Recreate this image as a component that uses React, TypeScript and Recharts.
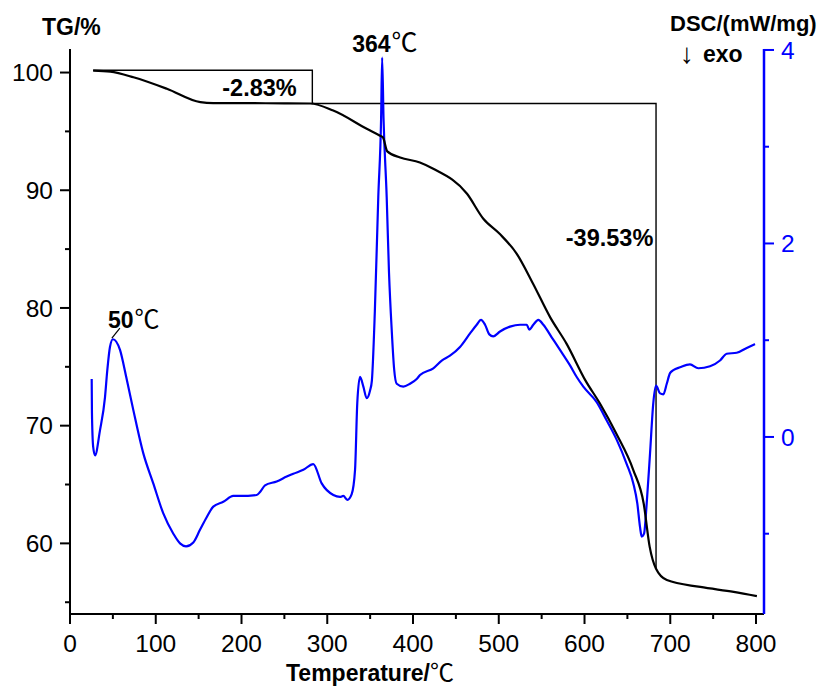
import React from 'react';
import { ComposedChart, Line, XAxis, YAxis, ReferenceDot, Label } from 'recharts';

// TG curve: temperature (℃) and remaining mass (%)
const TG_TEMP = [
  27, 47, 74, 113, 152, 167, 200, 250, 280, 307,
  346, 361, 365, 370, 385, 408, 423, 463, 482, 501,
  521, 540, 560, 579, 601, 618, 637, 657, 669, 676,
  683.4, 696, 735, 774, 801,
];
const TG_MASS = [
  100.17, 100.08, 99.6, 98.62, 97.48, 97.4, 97.4, 97.38, 97.37, 96.77,
  95.22, 94.65, 94.48, 93.3, 92.78, 92.36, 91.85, 89.7, 87.58, 86.3,
  84.6, 82.06, 79.2, 76.97, 73.85, 71.88, 69.33, 66.21, 63.39, 59.7,
  57.84, 56.88, 56.3, 55.88, 55.52,
];

// DSC curve: temperature (℃) and heat flow (mW/mg)
const DSC_TEMP = [
  25.3, 25.6, 27, 29.2, 35, 40.8, 43.5, 46.6, 50, 58.3,
  62.2, 65.3, 73.8, 85.5, 97.1, 108.8, 120.5, 128.3, 135.3, 143.8,
  151.6, 159.4, 167.1, 178.8, 190.4, 198.3, 217.7, 221.6, 227.4, 241,
  252.7, 260.4, 272.1, 283.7, 293.5, 307.1, 314.9, 318.7, 323.4, 328.5,
  332.4, 335, 338.2, 342.1, 346, 349.9, 352, 355.5, 359.5, 362.8,
  364, 365.6, 369.3, 372, 375.2, 378, 381, 388.7, 396.5, 404.3,
  408.2, 423.7, 433.5, 443.1, 454.8, 466.5, 474.3, 479.3, 484, 489,
  493.6, 501.5, 513.1, 524.8, 532.6, 535.6, 540.3, 546.1, 552, 561.7,
  571.4, 583.1, 590.9, 598.6, 614.2, 625.9, 637.6, 649.2, 656.9, 661.6,
  664.7, 666.7, 669.4, 672.5, 676.4, 680.2, 683.4, 688.1, 691.9, 695.9,
  699.7, 703.6, 711.4, 723, 732.7, 746.4, 758, 765.8, 777.5, 789.2,
  798.8,
];
const DSC_HEAT = [
  0.6, 0.25, -0.1, -0.19, 0.07, 0.41, 0.69, 0.93, 1.01, 0.9,
  0.76, 0.63, 0.28, -0.17, -0.48, -0.79, -1.0, -1.1, -1.13, -1.09,
  -0.96, -0.83, -0.72, -0.67, -0.61, -0.61, -0.6, -0.57, -0.5, -0.46,
  -0.41, -0.38, -0.34, -0.28, -0.48, -0.6, -0.62, -0.61, -0.65, -0.59,
  -0.34, 0.35, 0.62, 0.52, 0.4, 0.48, 0.58, 1.3, 2.48, 3.3,
  3.92, 3.3, 2.48, 1.7, 1.1, 0.7, 0.55, 0.52, 0.55, 0.6,
  0.64, 0.71, 0.79, 0.84, 0.93, 1.07, 1.16, 1.21, 1.16, 1.06,
  1.04, 1.09, 1.14, 1.16, 1.16, 1.11, 1.16, 1.21, 1.16, 1.03,
  0.9, 0.74, 0.62, 0.52, 0.36, 0.17, -0.03, -0.28, -0.48, -0.69,
  -0.93, -1.03, -1.0, -0.69, -0.17, 0.35, 0.53, 0.45, 0.44, 0.55,
  0.66, 0.69, 0.72, 0.75, 0.71, 0.73, 0.79, 0.86, 0.87, 0.92,
  0.96,
];

// Mass-loss steps and peak temperatures
const START_MASS = 100.2;
const FIRST_LOSS = -2.83;
const SECOND_LOSS = -39.53;
const STEP_1_END = 282.6;
const STEP_2_END = 683.4;
const STEP_START = 27;
const PEAK_LOW = 50;
const PEAK_LOW_HEAT = 1.01;
const PEAK_HIGH = 364;
const PEAK_HIGH_HEAT = 3.92;

// Axis ticks
const TEMP_TICKS = [0, 50, 100, 150, 200, 250, 300, 350, 400, 450, 500, 550, 600, 650, 700, 750, 800];
const TG_TICKS = [55, 60, 65, 70, 75, 80, 85, 90, 95, 100];
const DSC_TICKS = [-1, 0, 1, 2, 3, 4];

const tgData = TG_TEMP.map((t, i) => ({ t, tg: TG_MASS[i] }));
const dscData = DSC_TEMP.map((t, i) => ({ t, dsc: DSC_HEAT[i] }));
const midMass = +(START_MASS + FIRST_LOSS).toFixed(2);
const endMass = +(midMass + SECOND_LOSS).toFixed(2);
const stepData = [
  { t: STEP_START, step: START_MASS },
  { t: STEP_1_END, step: START_MASS },
  { t: STEP_1_END, step: midMass },
  { t: STEP_2_END, step: midMass },
  { t: STEP_2_END, step: endMass },
];

const SANS = '"Liberation Sans", Arial, Helvetica, sans-serif';
const DEG = '"Noto Sans CJK SC", "Noto Sans CJK JP", sans-serif';
const BLUE = '#0000ff';
const TICK_FONT = 24.5;

const BottomTick = (props: any) => {
  const { x, y, payload } = props;
  const major = payload.value % 100 === 0;
  return (
    <g>
      <line x1={x} y1={y} x2={x} y2={y + (major ? 10 : 5)} stroke="#000" strokeWidth={2} />
      {major && (
        <text x={x} y={y + 38} textAnchor="middle" fontSize={TICK_FONT} fontFamily={SANS} fill="#000">
          {payload.value}
        </text>
      )}
    </g>
  );
};

const LeftTick = (props: any) => {
  const { x, y, payload } = props;
  const major = payload.value % 10 === 0;
  return (
    <g>
      <line x1={x - (major ? 10 : 5)} y1={y} x2={x} y2={y} stroke="#000" strokeWidth={2} />
      {major && (
        <text x={x - 17} y={y + 8.6} textAnchor="end" fontSize={TICK_FONT} fontFamily={SANS} fill="#000">
          {payload.value}
        </text>
      )}
    </g>
  );
};

const RightTick = (props: any) => {
  const { x, y, payload } = props;
  const major = payload.value % 2 === 0;
  return (
    <g>
      <line x1={x} y1={y} x2={x + (major ? 10 : 5)} y2={y} stroke={BLUE} strokeWidth={2} />
      {major && (
        <text x={x + 17} y={y + 8.6} textAnchor="start" fontSize={TICK_FONT} fontFamily={SANS} fill={BLUE}>
          {payload.value}
        </text>
      )}
    </g>
  );
};

const centre = (vb: any) => ({ cx: vb.x + (vb.width || 0) / 2, cy: vb.y + (vb.height || 0) / 2 });

const highPeakLabel = (props: any) => {
  const { cx, cy } = centre(props.viewBox);
  return (
    <text x={cx - 30} y={cy - 6} fill="#000">
      <tspan fontFamily={SANS} fontWeight="bold" fontSize={23}>{PEAK_HIGH}</tspan>
      <tspan fontFamily={DEG} fontSize={26} dx={1}>℃</tspan>
    </text>
  );
};

const lowPeakLabel = (props: any) => {
  const { cx, cy } = centre(props.viewBox);
  return (
    <g>
      <line x1={cx - 1} y1={cy - 1} x2={cx + 7} y2={cy - 11} stroke="#000" strokeWidth={1.2} />
      <text x={cx - 5} y={cy - 11} fill="#000">
        <tspan fontFamily={SANS} fontWeight="bold" fontSize={23}>{PEAK_LOW}</tspan>
        <tspan fontFamily={DEG} fontSize={25} dx={1}>℃</tspan>
      </text>
    </g>
  );
};

const firstLossLabel = (props: any) => {
  const { cx, cy } = centre(props.viewBox);
  return (
    <text x={cx - 15.6} y={cy + 26} textAnchor="end" fontFamily={SANS} fontWeight="bold" fontSize={23.5} fill="#000">
      {`${FIRST_LOSS.toFixed(2)}%`}
    </text>
  );
};

const secondLossLabel = (props: any) => {
  const { cx, cy } = centre(props.viewBox);
  return (
    <text x={cx - 2.7} y={cy + 142.5} textAnchor="end" fontFamily={SANS} fontWeight="bold" fontSize={23.5} fill="#000">
      {`${SECOND_LOSS.toFixed(2)}%`}
    </text>
  );
};

export default function App() {
  return (
    <div style={{ position: 'absolute', left: 0, top: 0, width: 822, height: 690, background: '#fff' }}>
      <ComposedChart width={822} height={690} margin={{ top: 49, right: 0, bottom: 0, left: 0 }}>
        <XAxis
          dataKey="t"
          type="number"
          domain={[0, 809.3]}
          ticks={TEMP_TICKS}
          interval={0}
          allowDataOverflow
          height={76}
          tickSize={0}
          tickMargin={0}
          tickLine={false}
          tick={BottomTick}
          axisLine={{ stroke: '#000', strokeWidth: 2 }}
        >
          <Label
            content={() => (
              <text x={286} y={681} fill="#000">
                <tspan fontFamily={SANS} fontWeight="bold" fontSize={23}>Temperature/</tspan>
                <tspan fontFamily={DEG} fontSize={24}>℃</tspan>
              </text>
            )}
          />
        </XAxis>
        <YAxis
          yAxisId="tg"
          orientation="left"
          type="number"
          domain={[54, 102]}
          ticks={TG_TICKS}
          interval={0}
          allowDataOverflow
          width={70}
          tickSize={0}
          tickMargin={0}
          tickLine={false}
          tick={LeftTick}
          axisLine={{ stroke: '#000', strokeWidth: 2 }}
        >
          <Label
            content={() => (
              <text x={42} y={35} fontFamily={SANS} fontWeight="bold" fontSize={23} fill="#000">
                TG/%
              </text>
            )}
          />
        </YAxis>
        <YAxis
          yAxisId="dsc"
          orientation="right"
          type="number"
          domain={[-1.83, 4.01]}
          ticks={DSC_TICKS}
          interval={0}
          allowDataOverflow
          width={58}
          tickSize={0}
          tickMargin={0}
          tickLine={false}
          tick={RightTick}
          axisLine={{ stroke: BLUE, strokeWidth: 2.5 }}
        >
          <Label
            content={() => (
              <g>
                <text x={670} y={31} fontFamily={SANS} fontWeight="bold" fontSize={22} fill="#000">
                  DSC/(mW/mg)
                </text>
                <text x={680} y={63} fontFamily={SANS} fontSize={28} fill="#000">↓</text>
                <text x={703} y={62} fontFamily={SANS} fontWeight="bold" fontSize={23} fill="#000">exo</text>
              </g>
            )}
          />
        </YAxis>

        <Line
          data={stepData}
          dataKey="step"
          yAxisId="tg"
          type="linear"
          stroke="#000"
          strokeWidth={1.4}
          dot={false}
          activeDot={false}
          isAnimationActive={false}
        />
        <Line
          data={dscData}
          dataKey="dsc"
          yAxisId="dsc"
          type="monotone"
          stroke={BLUE}
          strokeWidth={2.2}
          dot={false}
          activeDot={false}
          isAnimationActive={false}
        />
        <Line
          data={tgData}
          dataKey="tg"
          yAxisId="tg"
          type="monotone"
          stroke="#000"
          strokeWidth={2.2}
          dot={false}
          activeDot={false}
          isAnimationActive={false}
        />

        <ReferenceDot x={PEAK_HIGH} y={PEAK_HIGH_HEAT} yAxisId="dsc" r={1} fill="none" stroke="none" ifOverflow="visible">
          <Label content={highPeakLabel} />
        </ReferenceDot>
        <ReferenceDot x={PEAK_LOW} y={PEAK_LOW_HEAT} yAxisId="dsc" r={1} fill="none" stroke="none" ifOverflow="visible">
          <Label content={lowPeakLabel} />
        </ReferenceDot>
        <ReferenceDot x={STEP_1_END} y={START_MASS} yAxisId="tg" r={1} fill="none" stroke="none" ifOverflow="visible">
          <Label content={firstLossLabel} />
        </ReferenceDot>
        <ReferenceDot x={STEP_2_END} y={midMass} yAxisId="tg" r={1} fill="none" stroke="none" ifOverflow="visible">
          <Label content={secondLossLabel} />
        </ReferenceDot>
      </ComposedChart>
    </div>
  );
}
